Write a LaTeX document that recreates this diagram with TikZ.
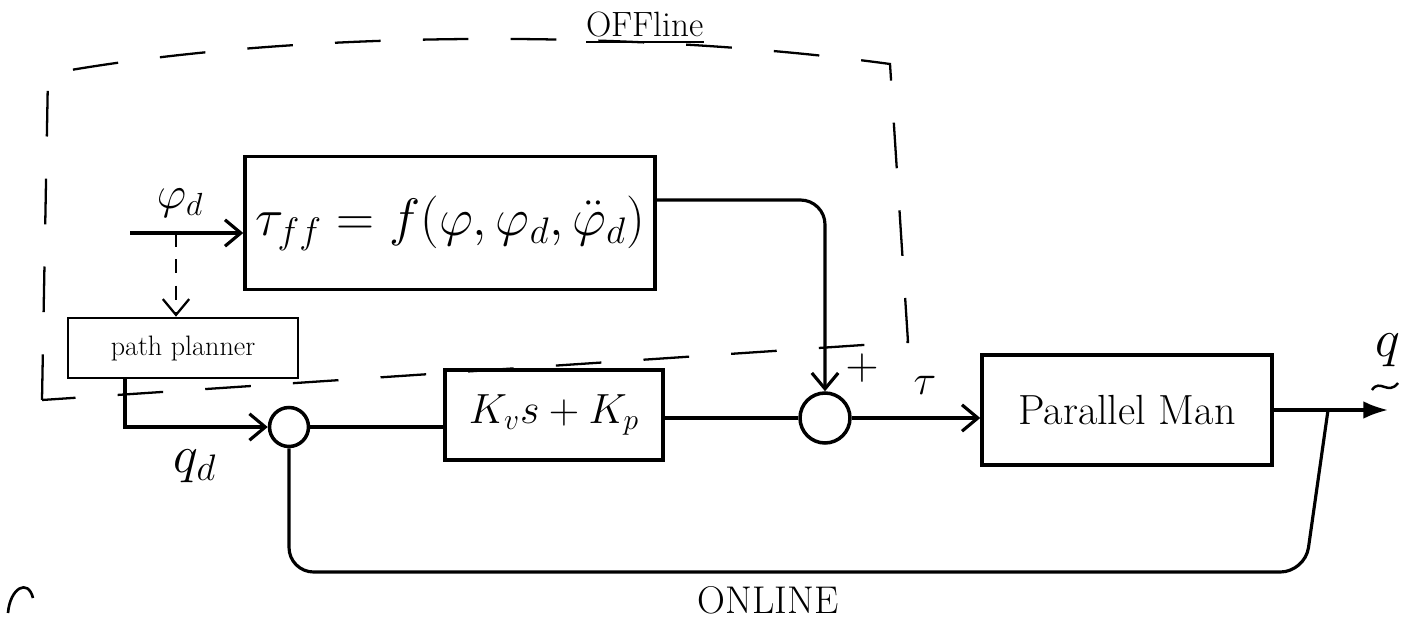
\RequirePackage{fix-cm}
\documentclass[tikz,border=0pt]{standalone}
\usepackage{fontspec}
\usepackage{amsmath}
\usetikzlibrary{arrows.meta}
\newcommand{\fsz}[1]{\fontsize{#1}{#1}\selectfont}
\begin{document}
\begin{tikzpicture}[x=0.02cm,y=-0.02cm,
    line width=1.8pt,
    >={Straight Barb[length=9pt,width=15pt]},
    block/.style={draw,line width=2pt,inner sep=0pt},
    sumjunc/.style={draw,circle,line width=2pt,inner sep=0pt},
    zone/.style={line width=1.3pt,dash pattern=on 26pt off 24pt},
    lbl/.style={inner sep=0pt}]
\useasboundingbox (0,0) rectangle (1402,628);

% blocks
\node[block,minimum width=8.2cm,minimum height=2.66cm] (tff) at (450,223)
  {\fsz{30}$\tau_{ff}=f(\varphi,\varphi_d,\ddot{\varphi}_d)$};
\node[block,line width=1.5pt,minimum width=4.6cm,minimum height=1.2cm] (pp) at (183,348)
  {\fsz{16}path planner};
\node[block,minimum width=4.36cm,minimum height=1.8cm] (kv) at (554,415)
  {\fsz{24}$K_v s+K_p$};
\node[block,minimum width=5.8cm,minimum height=2.2cm] (pm) at (1127,410)
  {\fsz{24}Parallel Man};
\node[sumjunc,minimum size=0.78cm] (s1) at (289,427) {};
\node[sumjunc,minimum size=1.0cm] (s2) at (825,418) {};

% offline zone
\draw[zone] (42,400) -- (48,74) .. controls (300,28) and (640,30) .. (890,64)
  -- (908,342) -- cycle;
\node[lbl] (off) at (645,28) {\fsz{20}\underline{OFFline}};
\node[lbl] (on) at (768,600) {\fsz{22}ONLINE};

% feed-forward branch
\coordinate (phin) at (130,233);
\coordinate (tap) at (176,233);
\draw[->] (phin) -- (tff.west |- phin);
\node[lbl] (phid) at (180,203) {\fsz{26}$\varphi_d$};
\draw[->,line width=1.3pt,dash pattern=on 8pt off 7pt] (tap) -- (tap |- pp.north);
\draw[->,rounded corners=14pt] ([yshift=0.46cm]tff.east) -| (s2.north);
\node[lbl] (plus) at (862,368) {\fsz{26}$+$};

% feedback loop
\draw[->] ([xshift=-1.16cm]pp.south) |- (s1.west);
\node[lbl] (qd) at (195,466) {\fsz{30}$q_d$};
\draw (s1.east) -- (s1 -| kv.west);
\draw (kv.east |- s2) -- (s2.west);
\draw[->] (s2.east) -- (s2 -| pm.west);
\node[lbl] (tau) at (925,385) {\fsz{24}$\tau$};

\coordinate (qout) at (1388,410);
\coordinate (tapq) at (1328,410);
\coordinate (fb) at (1305,572);
\draw[-{Latex[length=14pt,width=10pt]}] (pm.east |- qout) -- (qout);
\node[lbl] (q) at (1388,350) {\fsz{30}$q$};
\draw[line width=1.4pt] (1372,390) .. controls (1380,378) and (1388,396) .. (1398,383);
\draw[rounded corners=14pt] (tapq) -- (fb) -- (fb -| s1) -- (s1.south);

% stray pen mark
\draw[line width=1.5pt] (8,613) .. controls (10,588) and (28,578) .. (33,598);
\end{tikzpicture}
\end{document}
